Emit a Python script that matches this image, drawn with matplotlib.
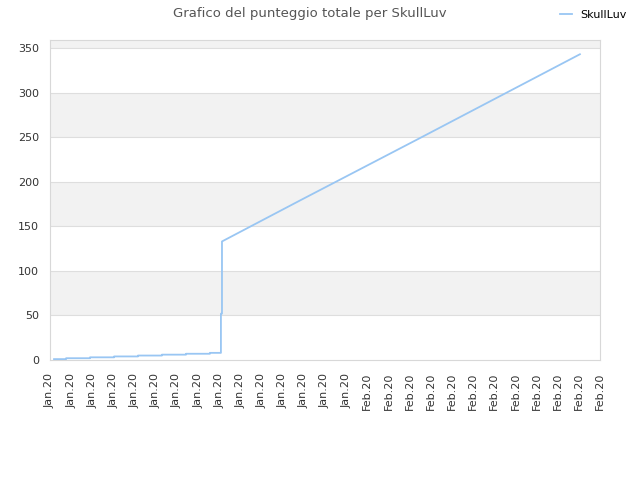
import numpy as np
import matplotlib
matplotlib.use("Agg")
import matplotlib.pyplot as plt

# time axis in tick units (one unit per date label)
times = [0.19, 0.76, 0.76, 1.89, 1.89, 3.03, 3.03, 4.16, 4.16, 5.29, 5.29,
         6.43, 6.43, 7.56, 7.56, 8.08, 8.08, 8.13, 8.13, 11.82, 17.49, 25.05]
scores = [1, 1, 2, 2, 3, 3, 4, 4, 5, 5, 6,
          6, 7, 7, 8, 8, 52, 52, 133, 179, 249, 343]

tick_labels = ["Jan.20"] * 15 + ["Feb.20"] * 12
player = "SkullLuv"

fig = plt.figure(figsize=(6.4, 4.8), dpi=100)
ax = fig.add_axes([50/640, 120/480, 550/640, 320/480])

# alternating bands
for lo in [50, 150, 250, 350]:
    ax.axhspan(lo, lo + 50, color="#f2f2f2", zorder=0, lw=0)
for yv in range(50, 351, 50):
    ax.axhline(yv, color="#dedede", lw=0.8, zorder=1)

ax.plot(times, scores, color="#99c6f3", lw=1.3, label=player, zorder=3)

ax.set_xlim(0, 26)
ax.set_ylim(0, 359)
ax.set_yticks(range(0, 351, 50))
ax.set_xticks(np.arange(len(tick_labels)))
ax.set_xticklabels(tick_labels, rotation=90)
ax.tick_params(length=0, labelsize=8, labelcolor="#333333")
ax.tick_params(axis="x", pad=9)
ax.tick_params(axis="y", pad=8)

for s in ax.spines.values():
    s.set_color("#d8d8d8")

fig.suptitle("Grafico del punteggio totale per " + player, x=310/640, y=0.985,
             fontsize=9.5, color="#555555")
fig.legend(loc="upper right", bbox_to_anchor=(0.995, 1.0), frameon=False,
           fontsize=8, handlelength=1.0, handletextpad=0.8)

fig.savefig("out.png", dpi=100)
